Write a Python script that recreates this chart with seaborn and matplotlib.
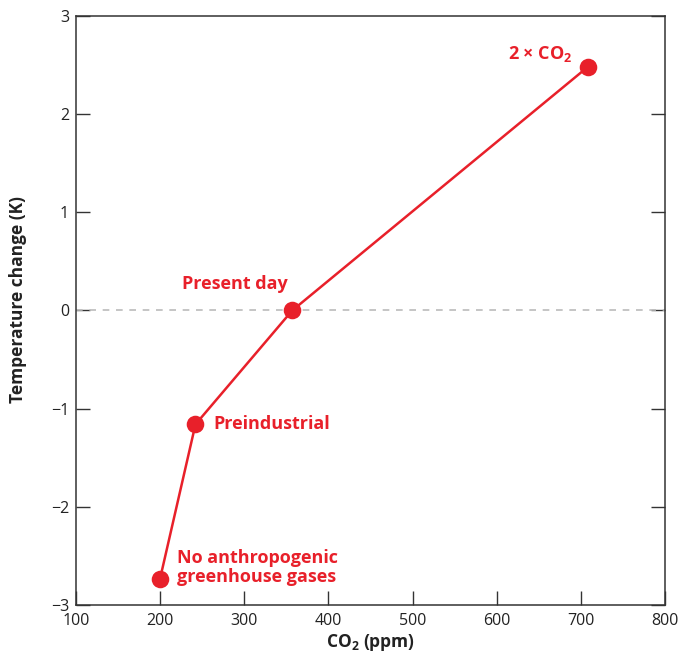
import matplotlib
matplotlib.use("Agg")
import matplotlib.pyplot as plt
import seaborn as sns
import pandas as pd

co2 = [200, 242, 357, 708]
temp = [-2.73, -1.16, 0.0, 2.48]
labels = ["No anthropogenic\ngreenhouse gases", "Preindustrial", "Present day", r"2 × CO$_\mathbf{2}$"]
xticks = [100, 200, 300, 400, 500, 600, 700, 800]
yticks = [-3, -2, -1, 0, 1, 2, 3]
ytick_labels = ["\u22123", "\u22122", "\u22121", "0", "1", "2", "3"]

sns.set_style("white")
plt.rcParams["font.family"] = ["Open Sans", "DejaVu Sans"]
plt.rcParams["mathtext.fontset"] = "custom"
plt.rcParams["mathtext.rm"] = "Open Sans"
plt.rcParams["mathtext.bf"] = "Open Sans:bold"

RED = "#E8202A"
df = pd.DataFrame({"co2": co2, "temp": temp})

fig = plt.figure(figsize=(6.78, 6.56), dpi=100)
ax = fig.add_axes([0.112, 0.0777, 0.869, 0.898])

ax.axhline(0, color="#BBBBBB", lw=1.2, ls=(0, (4, 4)), zorder=1)
sns.lineplot(data=df, x="co2", y="temp", color=RED, lw=1.8, ax=ax, sort=False, zorder=2)
sns.scatterplot(data=df, x="co2", y="temp", color=RED, s=160, edgecolor=RED, linewidth=0, ax=ax, zorder=3)

ax.set_xlim(100, 800)
ax.set_ylim(-3, 3)
ax.set_xticks(xticks)
ax.set_xticklabels([str(v) for v in xticks])
ax.set_yticks(yticks)
ax.set_yticklabels(ytick_labels)
ax.tick_params(axis="both", direction="in", length=10, width=1, color="#333333",
               labelsize=11.5, labelcolor="#222222")
ax.tick_params(axis="x", bottom=True, top=False, pad=6)
ax.tick_params(axis="y", right=True, left=True, pad=5)
for s in ax.spines.values():
    s.set_color("#333333")
    s.set_linewidth(1.1)

ax.set_xlabel(r"CO$_\mathbf{2}$ (ppm)", fontsize=12.5, fontweight="bold", color="#222222")
ax.set_ylabel("Temperature change (K)", fontsize=12.5, fontweight="bold", color="#222222")
ax.xaxis.set_label_coords(0.5, -0.046)
ax.yaxis.set_label_coords(-0.083, 0.518)

tkw = dict(color=RED, fontsize=13, fontweight="bold")
ax.annotate(labels[0], (co2[0], temp[0]), xytext=(12, 8), textcoords="offset points",
            ha="left", va="center", linespacing=1.1, **tkw)
ax.annotate(labels[1], (co2[1], temp[1]), xytext=(13, 0), textcoords="offset points",
            ha="left", va="center", **tkw)
ax.annotate(labels[2], (co2[2], temp[2]), xytext=(-41, 19), textcoords="offset points",
            ha="center", va="center", **tkw)
ax.annotate(labels[3], (co2[3], temp[3]), xytext=(-11, 9), textcoords="offset points",
            ha="right", va="center", **tkw)

fig.savefig("out.png", dpi=100)
